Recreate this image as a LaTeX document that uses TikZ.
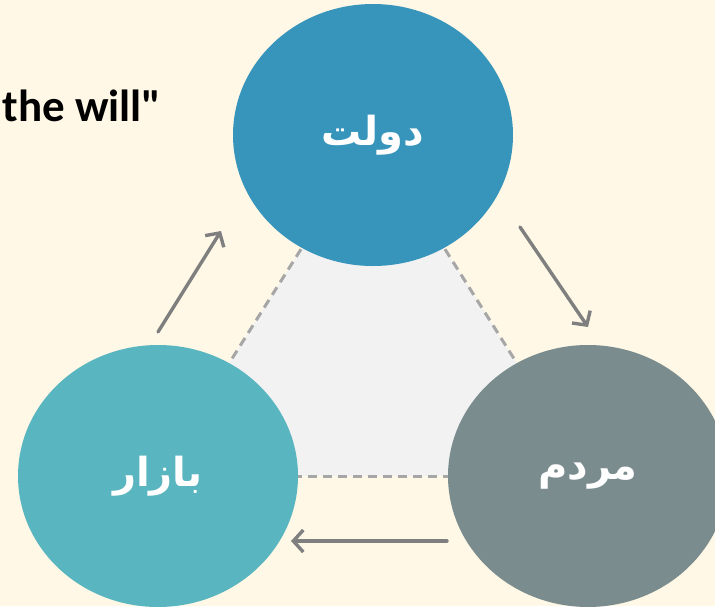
\documentclass[tikz,border=0pt]{standalone}
\usepackage{fontspec}
\newfontfamily\willfont{Carlito}
\newfontfamily\arabicfont[Script=Arabic]{DejaVu Sans}
\TeXXeTstate=1
\usetikzlibrary{shapes.geometric,arrows.meta,backgrounds}
\definecolor{bgcream}{HTML}{FFF8E6}
\definecolor{dowlatblue}{HTML}{3795BC}
\definecolor{bazarteal}{HTML}{59B5BF}
\definecolor{mardomgray}{HTML}{7A8C8E}
\definecolor{arrowgray}{HTML}{7F7F7F}
\definecolor{dashgray}{HTML}{A6A6A6}
\definecolor{trifill}{HTML}{F2F2F2}
\tikzset{
  actor/.style={ellipse, minimum width=280pt, minimum height=262pt, inner sep=0pt,
    text=white, font=\arabicfont\bfseries\fontsize{40}{46}\selectfont},
  flow/.style={draw=arrowgray, line width=3.4pt, line cap=round,
    -{Straight Barb[length=10pt,width=22pt,line width=3.4pt]}},
  tri/.style={draw=dashgray, line width=3pt, dash pattern=on 9pt off 6pt}
}
\begin{document}
\begin{tikzpicture}[x=1pt,y=-1pt]
    \useasboundingbox (0,0) rectangle (715,606);
    \clip (0,0) rectangle (715,606);

    \node[actor, fill=dowlatblue] at (373,135) (dowlat){\beginR دولت\endR};
    \node[actor, fill=bazarteal] at (158,476) (bazar){\beginR بازار\endR};
    \node[actor, fill=mardomgray] at (588,476) (mardom){\beginR مردم\endR};

    \begin{scope}[on background layer]
    \fill[bgcream] (0,0) rectangle (715,606);
    \fill[trifill] (dowlat.center) -- (bazar.center) -- (mardom.center) -- cycle;
    \draw[tri] (dowlat.center) -- (bazar.center);
    \draw[tri] (dowlat.center) -- (mardom.center);
    \draw[tri] (bazar.center) -- (mardom.center);
    \end{scope}

    \node[anchor=base west, font=\willfont\bfseries\fontsize{45}{50}\selectfont] at (-1,121) (will){the will"};

    \coordinate (a1) at (158,332);
    \coordinate (a2) at (221,231);
    \coordinate (b1) at (520,227);
    \coordinate (b2) at (588,327);
    \coordinate (c1) at (447,541);
    \coordinate (c2) at (291,541);
    \draw[flow] (a1) -- (a2);
    \draw[flow] (b1) -- (b2);
    \draw[flow] (c1) -- (c2);
\end{tikzpicture}
\end{document}
